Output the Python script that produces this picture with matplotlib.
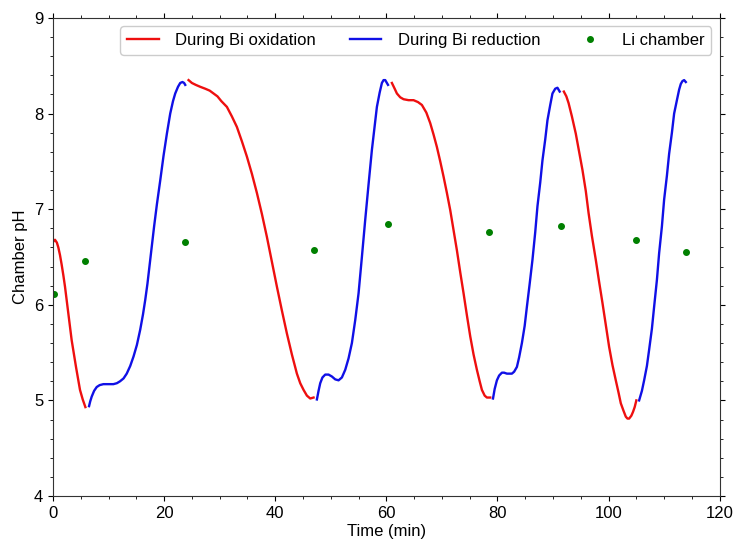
import matplotlib
matplotlib.use('Agg')
import matplotlib.pyplot as plt
from matplotlib.ticker import MultipleLocator

plt.rcParams['font.family'] = ['Liberation Sans', 'DejaVu Sans']

# Oxidation segments (red): time (min), pH
ox_t = [
    [0.05, 0.36, 0.7, 0.96, 1.26, 1.56, 1.86, 2.16, 2.46, 2.76, 3.06, 3.36, 3.75, 4.14, 4.5, 4.86, 5.35, 5.83],
    [24.4, 25.0, 25.7, 26.5, 27.4, 28.2, 28.9, 29.6, 30.3, 31.3, 32.2, 33.1, 34.0, 34.9, 35.8, 36.7, 37.6,
     38.5, 39.4, 40.3, 41.2, 42.1, 43.0, 43.9, 44.5, 45.1, 45.7, 46.3, 46.9],
    [61.0, 61.5, 61.9, 62.5, 63.1, 64.0, 64.9, 65.7, 66.4, 67.2, 67.9, 68.5, 69.1, 69.7, 70.3, 70.9, 71.5,
     72.1, 72.7, 73.3, 73.9, 74.5, 75.1, 75.7, 76.3, 76.8, 77.2, 77.7, 78.1, 78.7],
    [91.95, 92.4, 92.8, 93.4, 94.1, 94.7, 95.3, 95.9, 96.4, 97.0, 97.7, 98.3, 98.9, 99.5, 100.1, 100.7,
     101.3, 101.8, 102.2, 102.7, 103.1, 103.4, 103.7, 104.1, 104.4, 104.7, 105.0],
]
ox_ph = [
    [6.66, 6.68, 6.65, 6.60, 6.52, 6.42, 6.31, 6.19, 6.05, 5.91, 5.77, 5.63, 5.49, 5.35, 5.23, 5.11, 5.01, 4.93],
    [8.35, 8.32, 8.30, 8.28, 8.26, 8.24, 8.21, 8.18, 8.13, 8.07, 7.97, 7.86, 7.71, 7.55, 7.37, 7.17, 6.95,
     6.71, 6.45, 6.19, 5.94, 5.70, 5.48, 5.28, 5.18, 5.11, 5.05, 5.02, 5.03],
    [8.32, 8.26, 8.21, 8.17, 8.15, 8.14, 8.14, 8.12, 8.09, 8.01, 7.90, 7.78, 7.65, 7.50, 7.34, 7.17, 6.99,
     6.78, 6.57, 6.34, 6.12, 5.89, 5.67, 5.48, 5.32, 5.20, 5.11, 5.05, 5.03, 5.03],
    [8.23, 8.18, 8.11, 7.97, 7.79, 7.60, 7.41, 7.19, 6.96, 6.72, 6.47, 6.24, 6.02, 5.79, 5.56, 5.37,
     5.21, 5.08, 4.97, 4.89, 4.83, 4.81, 4.81, 4.84, 4.88, 4.93, 5.00],
]

# Reduction segments (blue)
red_t = [
    [6.49, 6.7, 6.97, 7.4, 7.87, 8.4, 9.07, 10.0, 10.87, 11.5, 12.07, 12.7, 13.27, 13.9, 14.5, 15.1, 15.7,
     16.2, 16.6, 17.0, 17.4, 17.8, 18.2, 18.7, 19.3, 19.9, 20.5, 21.1, 21.6, 22.0, 22.5, 22.9, 23.3, 23.6, 23.8],
    [47.5, 47.8, 48.1, 48.5, 49.0, 49.6, 50.2, 50.8, 51.4, 52.0, 52.6, 53.2, 53.8, 54.4, 55.0, 55.6, 56.2,
     56.8, 57.4, 57.9, 58.3, 58.8, 59.2, 59.5, 59.8, 60.1, 60.3],
    [79.2, 79.5, 79.9, 80.3, 80.8, 81.2, 81.7, 82.1, 82.6, 83.0, 83.5, 83.9, 84.4, 84.9, 85.3, 85.8, 86.3,
     86.8, 87.2, 87.7, 88.1, 88.6, 89.0, 89.5, 89.9, 90.4, 90.8, 91.0, 91.2],
    [105.5, 106.0, 106.4, 106.9, 107.3, 107.8, 108.2, 108.7, 109.1, 109.6, 110.0, 110.5, 110.9, 111.4,
     111.8, 112.3, 112.7, 113.0, 113.3, 113.6, 113.9],
]
red_ph = [
    [4.94, 4.99, 5.04, 5.10, 5.14, 5.16, 5.17, 5.17, 5.17, 5.18, 5.20, 5.23, 5.28, 5.36, 5.46, 5.58, 5.74,
     5.90, 6.05, 6.22, 6.42, 6.62, 6.82, 7.05, 7.30, 7.56, 7.79, 8.00, 8.13, 8.21, 8.28, 8.32, 8.33, 8.32, 8.30],
    [5.01, 5.10, 5.18, 5.24, 5.27, 5.27, 5.25, 5.22, 5.21, 5.24, 5.32, 5.44, 5.60, 5.84, 6.12, 6.50, 6.89,
     7.26, 7.62, 7.87, 8.07, 8.22, 8.32, 8.35, 8.35, 8.32, 8.30],
    [5.02, 5.12, 5.21, 5.26, 5.29, 5.29, 5.28, 5.28, 5.28, 5.30, 5.35, 5.45, 5.60, 5.78, 5.98, 6.22, 6.47,
     6.76, 7.03, 7.28, 7.51, 7.73, 7.93, 8.09, 8.21, 8.26, 8.27, 8.25, 8.23],
    [5.00, 5.10, 5.21, 5.36, 5.53, 5.75, 5.98, 6.26, 6.54, 6.82, 7.10, 7.35, 7.58, 7.80, 8.00, 8.14, 8.25,
     8.31, 8.34, 8.35, 8.33],
]

# Li chamber measurements
li_t = [0.1, 5.8, 23.7, 46.9, 60.3, 78.5, 91.35, 104.9, 113.9]
li_ph = [6.11, 6.46, 6.66, 6.57, 6.85, 6.76, 6.82, 6.68, 6.55]

fig = plt.figure(figsize=(7.34, 5.44), dpi=100)
ax = fig.add_axes([0.0722, 0.0882, 0.9083, 0.8788])

for i, (t, p) in enumerate(zip(ox_t, ox_ph)):
    ax.plot(t, p, color='#ee0f0f', lw=1.7, label='During Bi oxidation' if i == 0 else None)
for i, (t, p) in enumerate(zip(red_t, red_ph)):
    ax.plot(t, p, color='#1010e6', lw=1.7, label='During Bi reduction' if i == 0 else None)
ax.plot(li_t, li_ph, 'o', color='green', ms=4, label='Li chamber')

ax.set_xlim(0, 120)
ax.set_ylim(4, 9)
ax.xaxis.set_major_locator(MultipleLocator(20))
ax.xaxis.set_minor_locator(MultipleLocator(5))
ax.yaxis.set_major_locator(MultipleLocator(1))
ax.yaxis.set_minor_locator(MultipleLocator(0.2))
ax.tick_params(which='both', direction='out', top=True, right=True, labelsize=12)
ax.tick_params(which='major', length=3.5)
ax.tick_params(which='minor', length=2.5)
for s in ax.spines.values():
    s.set_color('#333333')

ax.set_xlabel('Time (min)', fontsize=12, labelpad=2)
ax.set_ylabel('Chamber pH', fontsize=12, labelpad=4)

ax.legend(loc='upper right', ncol=3, fontsize=12, columnspacing=2.0, handlelength=1.9,
          handletextpad=1.0, borderaxespad=0.5, framealpha=1, edgecolor='#cccccc')

plt.savefig('out.png', dpi=100)
